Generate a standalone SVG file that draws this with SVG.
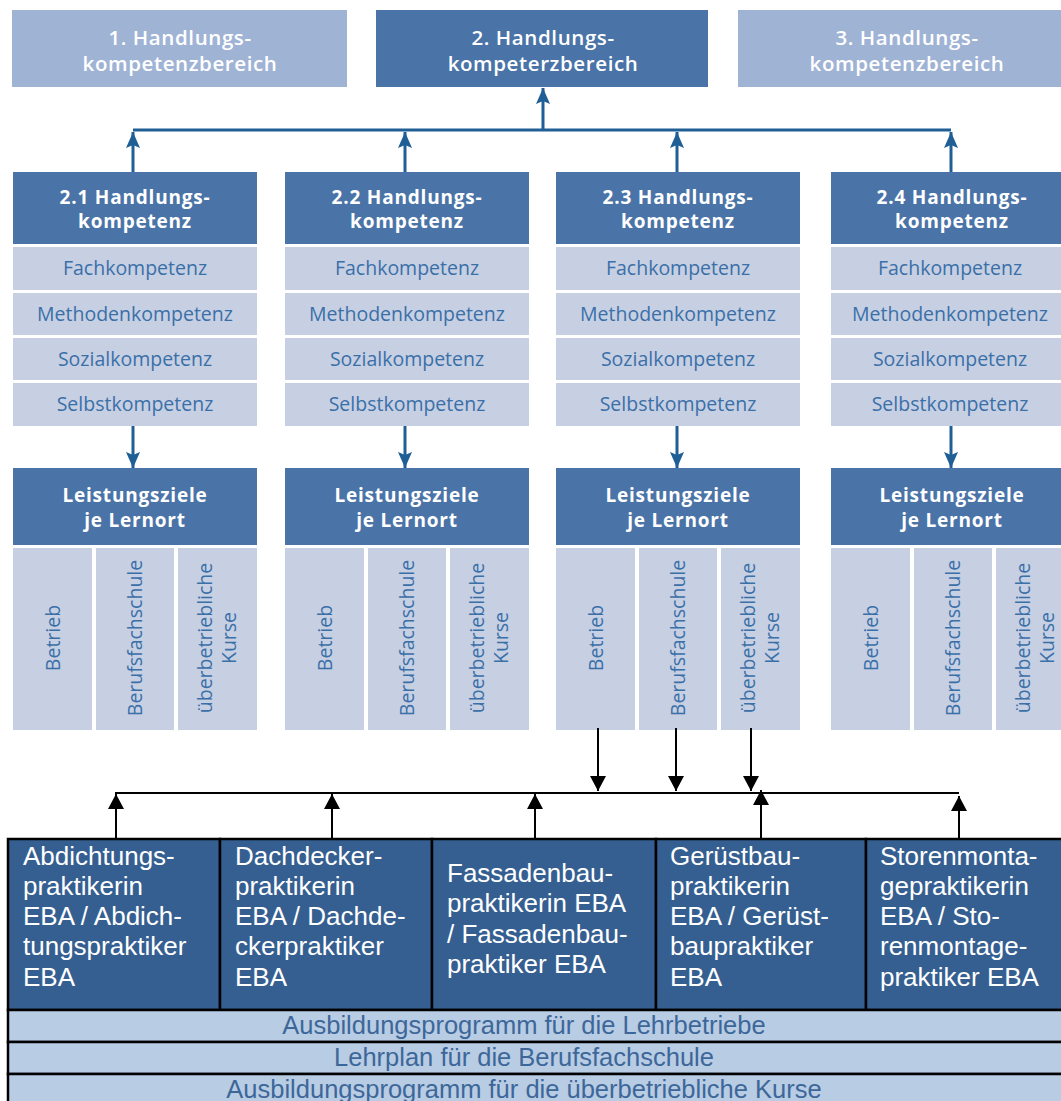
<svg xmlns="http://www.w3.org/2000/svg" width="1061" height="1101" viewBox="0 0 1061 1101">
  <style>
    .dark { fill: #4a74a7; }
    .pale { fill: #9fb3d5; }
    .light { fill: #c7cfe3; }
    .hd { font-family: "Open Sans", "DejaVu Sans", sans-serif; fill: #ffffff; text-anchor: middle; }
    .top { font-size: 20.5px; font-weight: 600; letter-spacing: 0.6px; }
    .colh { font-size: 19px; font-weight: 700; letter-spacing: 0.8px; }
    .row { font-family: "Open Sans", "DejaVu Sans", sans-serif; font-size: 19.5px; fill: #3a70a8; text-anchor: middle; }
    .job { fill: #365f91; stroke: #000000; stroke-width: 2.5; }
    .strip { fill: #b8cce4; stroke: #000000; stroke-width: 2.5; }
    .jt { font-family: "Liberation Sans", Arial, sans-serif; font-size: 26px; fill: #ffffff; }
    .st { font-family: "Liberation Sans", Arial, sans-serif; font-size: 25.5px; fill: #3d6799; text-anchor: middle; }
    .blue { stroke: #1f5f95; stroke-width: 3; fill: none; }
    .black { stroke: #000000; stroke-width: 2; fill: none; }
  </style>
  <defs>
    <marker id="bluehead" markerUnits="userSpaceOnUse" markerWidth="16" markerHeight="14" viewBox="0 0 16 14" refX="16" refY="7" orient="auto">
      <path d="M0,0 L16,7 L0,14 L3,7 Z" fill="#1f5f95"/>
    </marker>
    <marker id="blackhead" markerUnits="userSpaceOnUse" markerWidth="16" markerHeight="16" viewBox="0 0 16 16" refX="15" refY="8" orient="auto">
      <path d="M0,0 L15,8 L0,16 Z" fill="#000000"/>
    </marker>
  </defs>
  <rect width="1061" height="1101" fill="#ffffff"/>

  <!-- areas of competence -->
  <g id="bereich1">
    <rect class="pale" x="12" y="10" width="335" height="77"/>
    <text class="hd top" x="180" y="45">1. Handlungs-</text>
    <text class="hd top" x="180" y="71">kompetenzbereich</text>
  </g>
  <g id="bereich2">
    <rect class="dark" x="376" y="10" width="332" height="77"/>
    <text class="hd top" x="543" y="45">2. Handlungs-</text>
    <text class="hd top" x="543" y="71">kompeterzbereich</text>
  </g>
  <g id="bereich3">
    <rect class="pale" x="738" y="10" width="333" height="77"/>
    <text class="hd top" x="907" y="45">3. Handlungs-</text>
    <text class="hd top" x="907" y="71">kompetenzbereich</text>
  </g>

  <!-- competence columns 2.1 to 2.4 -->
  <g id="kompetenz21" transform="translate(13,0)">
    <rect class="dark" x="0" y="172" width="244" height="72"/>
    <text class="hd colh" x="122" y="204">2.1 Handlungs-</text>
    <text class="hd colh" x="122" y="228">kompetenz</text>
    <rect class="light" x="0" y="247" width="244" height="43"/>
    <text class="row" x="122" y="275">Fachkompetenz</text>
    <rect class="light" x="0" y="293" width="244" height="42"/>
    <text class="row" x="122" y="321">Methodenkompetenz</text>
    <rect class="light" x="0" y="338" width="244" height="42"/>
    <text class="row" x="122" y="366">Sozialkompetenz</text>
    <rect class="light" x="0" y="383" width="244" height="43"/>
    <text class="row" x="122" y="411">Selbstkompetenz</text>
  </g>
  <g id="kompetenz22" transform="translate(285,0)">
    <rect class="dark" x="0" y="172" width="244" height="72"/>
    <text class="hd colh" x="122" y="204">2.2 Handlungs-</text>
    <text class="hd colh" x="122" y="228">kompetenz</text>
    <rect class="light" x="0" y="247" width="244" height="43"/>
    <text class="row" x="122" y="275">Fachkompetenz</text>
    <rect class="light" x="0" y="293" width="244" height="42"/>
    <text class="row" x="122" y="321">Methodenkompetenz</text>
    <rect class="light" x="0" y="338" width="244" height="42"/>
    <text class="row" x="122" y="366">Sozialkompetenz</text>
    <rect class="light" x="0" y="383" width="244" height="43"/>
    <text class="row" x="122" y="411">Selbstkompetenz</text>
  </g>
  <g id="kompetenz23" transform="translate(556,0)">
    <rect class="dark" x="0" y="172" width="244" height="72"/>
    <text class="hd colh" x="122" y="204">2.3 Handlungs-</text>
    <text class="hd colh" x="122" y="228">kompetenz</text>
    <rect class="light" x="0" y="247" width="244" height="43"/>
    <text class="row" x="122" y="275">Fachkompetenz</text>
    <rect class="light" x="0" y="293" width="244" height="42"/>
    <text class="row" x="122" y="321">Methodenkompetenz</text>
    <rect class="light" x="0" y="338" width="244" height="42"/>
    <text class="row" x="122" y="366">Sozialkompetenz</text>
    <rect class="light" x="0" y="383" width="244" height="43"/>
    <text class="row" x="122" y="411">Selbstkompetenz</text>
  </g>
  <g id="kompetenz24" transform="translate(831,0)">
    <rect class="dark" x="0" y="172" width="244" height="72"/>
    <text class="hd colh" x="121" y="204">2.4 Handlungs-</text>
    <text class="hd colh" x="121" y="228">kompetenz</text>
    <rect class="light" x="0" y="247" width="244" height="43"/>
    <text class="row" x="119" y="275">Fachkompetenz</text>
    <rect class="light" x="0" y="293" width="244" height="42"/>
    <text class="row" x="119" y="321">Methodenkompetenz</text>
    <rect class="light" x="0" y="338" width="244" height="42"/>
    <text class="row" x="119" y="366">Sozialkompetenz</text>
    <rect class="light" x="0" y="383" width="244" height="43"/>
    <text class="row" x="119" y="411">Selbstkompetenz</text>
  </g>

  <!-- performance goals per learning location -->
  <g id="leistungsziele21" transform="translate(13,0)">
    <rect class="dark" x="0" y="468" width="244" height="77"/>
    <text class="hd colh" x="122" y="502">Leistungsziele</text>
    <text class="hd colh" x="122" y="527">je Lernort</text>
    <rect class="light" x="0" y="548" width="79" height="182"/>
    <rect class="light" x="83" y="548" width="78" height="182"/>
    <rect class="light" x="165" y="548" width="79" height="182"/>
    <text class="row" transform="translate(40,638) rotate(-90)" y="7">Betrieb</text>
    <text class="row" transform="translate(122,638) rotate(-90)" y="7">Berufsfachschule</text>
    <text class="row" transform="translate(204,638) rotate(-90)" y="-5">überbetriebliche</text>
    <text class="row" transform="translate(204,638) rotate(-90)" y="19">Kurse</text>
  </g>
  <g id="leistungsziele22" transform="translate(285,0)">
    <rect class="dark" x="0" y="468" width="244" height="77"/>
    <text class="hd colh" x="122" y="502">Leistungsziele</text>
    <text class="hd colh" x="122" y="527">je Lernort</text>
    <rect class="light" x="0" y="548" width="79" height="182"/>
    <rect class="light" x="83" y="548" width="78" height="182"/>
    <rect class="light" x="165" y="548" width="79" height="182"/>
    <text class="row" transform="translate(40,638) rotate(-90)" y="7">Betrieb</text>
    <text class="row" transform="translate(122,638) rotate(-90)" y="7">Berufsfachschule</text>
    <text class="row" transform="translate(204,638) rotate(-90)" y="-5">überbetriebliche</text>
    <text class="row" transform="translate(204,638) rotate(-90)" y="19">Kurse</text>
  </g>
  <g id="leistungsziele23" transform="translate(556,0)">
    <rect class="dark" x="0" y="468" width="244" height="77"/>
    <text class="hd colh" x="122" y="502">Leistungsziele</text>
    <text class="hd colh" x="122" y="527">je Lernort</text>
    <rect class="light" x="0" y="548" width="79" height="182"/>
    <rect class="light" x="83" y="548" width="78" height="182"/>
    <rect class="light" x="165" y="548" width="79" height="182"/>
    <text class="row" transform="translate(40,638) rotate(-90)" y="7">Betrieb</text>
    <text class="row" transform="translate(122,638) rotate(-90)" y="7">Berufsfachschule</text>
    <text class="row" transform="translate(204,638) rotate(-90)" y="-5">überbetriebliche</text>
    <text class="row" transform="translate(204,638) rotate(-90)" y="19">Kurse</text>
  </g>
  <g id="leistungsziele24" transform="translate(831,0)">
    <rect class="dark" x="0" y="468" width="244" height="77"/>
    <text class="hd colh" x="121" y="502">Leistungsziele</text>
    <text class="hd colh" x="121" y="527">je Lernort</text>
    <rect class="light" x="0" y="548" width="79" height="182"/>
    <rect class="light" x="83" y="548" width="78" height="182"/>
    <rect class="light" x="165" y="548" width="79" height="182"/>
    <text class="row" transform="translate(40,638) rotate(-90)" y="7">Betrieb</text>
    <text class="row" transform="translate(122,638) rotate(-90)" y="7">Berufsfachschule</text>
    <text class="row" transform="translate(204,638) rotate(-90)" y="-5">überbetriebliche</text>
    <text class="row" transform="translate(204,638) rotate(-90)" y="19">Kurse</text>
  </g>

  <!-- occupations -->
  <g id="beruf-abdichtung">
    <rect class="job" x="8" y="839" width="212" height="171"/>
    <text class="jt" x="23"><tspan x="23" y="865">Abdichtungs-</tspan><tspan x="23" y="895">praktikerin</tspan><tspan x="23" y="925">EBA / Abdich-</tspan><tspan x="23" y="955">tungspraktiker</tspan><tspan x="23" y="986">EBA</tspan></text>
  </g>
  <g id="beruf-dachdecker">
    <rect class="job" x="220" y="839" width="212" height="171"/>
    <text class="jt" x="235"><tspan x="235" y="865">Dachdecker-</tspan><tspan x="235" y="895">praktikerin</tspan><tspan x="235" y="925">EBA / Dachde-</tspan><tspan x="235" y="955">ckerpraktiker</tspan><tspan x="235" y="986">EBA</tspan></text>
  </g>
  <g id="beruf-fassadenbau">
    <rect class="job" x="432" y="839" width="224" height="171"/>
    <text class="jt" x="447"><tspan x="447" y="882">Fassadenbau-</tspan><tspan x="447" y="912">praktikerin EBA</tspan><tspan x="447" y="943">/ Fassadenbau-</tspan><tspan x="447" y="973">praktiker EBA</tspan></text>
  </g>
  <g id="beruf-geruestbau">
    <rect class="job" x="656" y="839" width="210" height="171"/>
    <text class="jt" x="670"><tspan x="670" y="865">Gerüstbau-</tspan><tspan x="670" y="895">praktikerin</tspan><tspan x="670" y="925">EBA / Gerüst-</tspan><tspan x="670" y="955">baupraktiker</tspan><tspan x="670" y="986">EBA</tspan></text>
  </g>
  <g id="beruf-storenmontage">
    <rect class="job" x="866" y="839" width="200" height="171"/>
    <text class="jt" x="880"><tspan x="880" y="865">Storenmonta-</tspan><tspan x="880" y="895">gepraktikerin</tspan><tspan x="880" y="925">EBA / Sto-</tspan><tspan x="880" y="955">renmontage-</tspan><tspan x="880" y="986">praktiker EBA</tspan></text>
  </g>

  <!-- training documents -->
  <g id="programm-lehrbetriebe">
    <rect class="strip" x="8" y="1010" width="1058" height="32"/>
    <text class="st" x="524" y="1034">Ausbildungsprogramm für die Lehrbetriebe</text>
  </g>
  <g id="lehrplan-berufsfachschule">
    <rect class="strip" x="8" y="1042" width="1058" height="32"/>
    <text class="st" x="524" y="1066">Lehrplan für die Berufsfachschule</text>
  </g>
  <g id="programm-kurse">
    <rect class="strip" x="8" y="1074" width="1058" height="32"/>
    <text class="st" x="524" y="1098">Ausbildungsprogramm für die überbetriebliche Kurse</text>
  </g>

  <!-- connectors -->
  <g id="connectors">
    <path class="blue" d="M133,130 H951"/>
    <path class="blue" d="M543,130 V88" marker-end="url(#bluehead)"/>
    <path class="blue" d="M133,172 V132" marker-end="url(#bluehead)"/>
    <path class="blue" d="M405,172 V132" marker-end="url(#bluehead)"/>
    <path class="blue" d="M677,172 V132" marker-end="url(#bluehead)"/>
    <path class="blue" d="M951,172 V132" marker-end="url(#bluehead)"/>
    <path class="blue" d="M133,426 V468" marker-end="url(#bluehead)"/>
    <path class="blue" d="M405,426 V468" marker-end="url(#bluehead)"/>
    <path class="blue" d="M677,426 V468" marker-end="url(#bluehead)"/>
    <path class="blue" d="M951,426 V468" marker-end="url(#bluehead)"/>

    <path class="black" d="M115,793 H959"/>
    <path class="black" d="M598,728 V791" marker-end="url(#blackhead)"/>
    <path class="black" d="M676,728 V791" marker-end="url(#blackhead)"/>
    <path class="black" d="M751,728 V791" marker-end="url(#blackhead)"/>
    <path class="black" d="M116,838 V794" marker-end="url(#blackhead)"/>
    <path class="black" d="M332,838 V794" marker-end="url(#blackhead)"/>
    <path class="black" d="M535,838 V794" marker-end="url(#blackhead)"/>
    <path class="black" d="M761,838 V790" marker-end="url(#blackhead)"/>
    <path class="black" d="M959,838 V796" marker-end="url(#blackhead)"/>
  </g>
</svg>
